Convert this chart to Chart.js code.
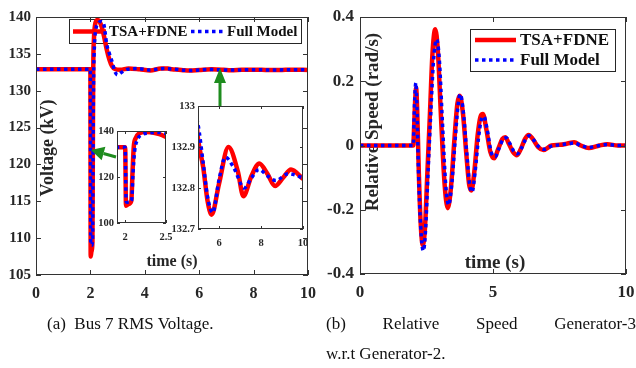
<!DOCTYPE html>
<html lang="en">
<head>
<meta charset="UTF-8">
<title>Bus 7 voltage and relative generator speed</title>
<script src="https://cdn.jsdelivr.net/npm/chart.js"></script>
<style>
    body {
        margin: 0;
        background: #fff;
        width: 636px;
        height: 368px;
        position: relative;
        overflow: hidden;
        font-family: "Liberation Serif", "Times New Roman", serif;
    }
    /* every plot sits at a fixed spot on the page */
    .plot { position: absolute; }
    .caption {
        position: absolute;
        font-size: 17px;
        line-height: 30px;
        color: #111;
        white-space: nowrap;
    }
</style>
</head>
<body>
<div class="plot" style="left:0;top:0;width:318px;height:310px"><canvas id="voltMain"></canvas></div>
<div class="plot" style="left:90px;top:120px;width:90px;height:130px"><canvas id="voltFault"></canvas></div>
<div class="plot" style="left:160px;top:95px;width:150px;height:160px"><canvas id="voltTail"></canvas></div>
<div class="plot" style="left:318px;top:0;width:318px;height:310px"><canvas id="speedMain"></canvas></div>

<div class="caption" style="left:47px;top:309px">(a)&nbsp; Bus 7 RMS Voltage.</div>
<div class="caption" style="left:326px;top:309px;width:310px;text-align:justify;text-align-last:justify;white-space:normal">(b) Relative Speed Generator-3</div>
<div class="caption" style="left:326px;top:339px">w.r.t Generator-2.</div>

<script>
// series names
const seriesNames = ['TSA+FDNE', 'Full Model'];

// Bus 7 RMS voltage (kV) against time (s)
const tsaVoltT = [0, 2.0, 2.01, 2.04, 2.075, 2.09, 2.105, 2.13, 2.17, 2.25,
    2.32, 2.42, 2.5, 2.6, 2.7, 2.8, 2.9, 3.1, 3.4, 3.8,
    4.2, 4.6, 4.85, 5.0, 5.25, 5.45, 5.65, 6.0, 6.45, 6.9,
    7.16, 7.55, 7.92, 8.3, 8.67, 9.05, 9.43, 10];
const tsaVoltV = [132.9, 132.9, 107.5, 108.2, 109.5, 122, 133, 137, 138.9, 139.6,
    139.5, 138.6, 137.4, 135.6, 134.2, 133.3, 132.95, 132.85, 133.0, 132.9,
    132.75, 133.0, 133.0, 132.92, 132.85, 132.77, 132.735, 132.81, 132.9, 132.84,
    132.78, 132.83, 132.86, 132.835, 132.805, 132.825, 132.845, 132.822];
const fullVoltT = [0, 2.0, 2.012, 2.05, 2.08, 2.095, 2.115, 2.15, 2.2, 2.3,
    2.38, 2.45, 2.5, 2.6, 2.7, 2.8, 2.9, 3.0, 3.15, 3.35,
    3.7, 4.2, 4.7, 5.0, 5.25, 5.45, 5.7, 6.0, 6.3, 6.7,
    7.2, 7.55, 7.9, 8.3, 8.7, 9.3, 10];
const fullVoltV = [132.9, 132.9, 109.2, 109.0, 110.0, 121, 131, 136.2, 138.3, 139.2,
    139.4, 139.3, 138.9, 136.3, 135.0, 133.9, 132.6, 132.15, 132.5, 132.9,
    133.0, 132.8, 133.0, 132.955, 132.86, 132.78, 132.74, 132.82, 132.875, 132.85,
    132.8, 132.825, 132.845, 132.83, 132.818, 132.835, 132.825];

// relative speed of generator 3 w.r.t. generator 2 (rad/s)
const tsaSpeedT = [0, 2.0, 2.04, 2.08, 2.11, 2.15, 2.21, 2.28, 2.36, 2.44,
    2.53, 2.63, 2.72, 2.83, 2.93, 3.05, 3.18, 3.3, 3.42, 3.55,
    3.66, 3.75, 3.87, 4.0, 4.1, 4.19, 4.3, 4.42, 4.53, 4.62,
    4.75, 4.9, 5.04, 5.2, 5.35, 5.46, 5.6, 5.75, 5.9, 6.05,
    6.2, 6.34, 6.5, 6.7, 6.9, 7.2, 7.5, 7.8, 8.05, 8.3,
    8.6, 9.0, 9.3, 9.7, 10];
const tsaSpeedV = [0, 0, 0.07, 0.15, 0.18, 0.11, -0.08, -0.24, -0.31, -0.26,
    -0.09, 0.1, 0.28, 0.362, 0.29, 0.08, -0.12, -0.195, -0.13, 0.02,
    0.13, 0.155, 0.1, -0.03, -0.12, -0.14, -0.08, 0.03, 0.09, 0.098,
    0.05, -0.02, -0.04, -0.01, 0.02, 0.026, 0.005, -0.02, -0.03, -0.01,
    0.02, 0.033, 0.02, -0.005, -0.014, 0, 0.002, 0.006, 0.01, 0,
    -0.008, 0, 0.004, 0, 0];
const fullSpeedT = [0, 2.0, 2.03, 2.06, 2.1, 2.14, 2.2, 2.28, 2.38, 2.46,
    2.56, 2.66, 2.76, 2.88, 2.98, 3.1, 3.22, 3.33, 3.45, 3.58,
    3.68, 3.77, 3.89, 4.02, 4.12, 4.21, 4.33, 4.45, 4.56, 4.66,
    4.78, 4.93, 5.08, 5.22, 5.37, 5.5, 5.64, 5.78, 5.92, 6.07,
    6.22, 6.36, 6.52, 6.72, 6.92, 7.2, 7.5, 7.8, 8.05, 8.3,
    8.6, 9.0, 9.3, 9.7, 10];
const fullSpeedV = [0, 0, 0.07, 0.15, 0.195, 0.12, -0.08, -0.25, -0.328, -0.27,
    -0.08, 0.1, 0.26, 0.33, 0.27, 0.07, -0.12, -0.185, -0.12, 0.02,
    0.12, 0.16, 0.1, -0.03, -0.12, -0.145, -0.08, 0.02, 0.08, 0.09,
    0.05, -0.02, -0.035, -0.01, 0.018, 0.024, 0.005, -0.018, -0.026, -0.008,
    0.018, 0.03, 0.018, -0.004, -0.012, -0.002, 0.002, 0.005, 0.008, 0,
    -0.006, 0, 0.003, 0, 0];

// tick positions
const voltTimeTicks = [0, 2, 4, 6, 8, 10];
const voltTicks = [105, 110, 115, 120, 125, 130, 135, 140];
const faultTimeTicks = [2, 2.5];
const faultVoltTicks = [100, 120, 140];
const tailTimeTicks = [6, 8, 10];
const tailVoltTicks = [132.7, 132.8, 132.9, 133];
const speedTimeTicks = [0, 5, 10];
const speedTicks = [-0.4, -0.2, 0, 0.2, 0.4];

const RED = '#ff0000';
const BLUE = '#0000ff';
const INK = '#262626';
const GREEN = '#1e8c1e';
const SERIF = '"Liberation Serif", "Times New Roman", serif';

function pts(t, v) {
    return t.map((x, i) => ({ x: x, y: v[i] }));
}

// red solid drawn first, blue dotted on top of it
function series(tT, tV, fT, fV) {
    return [
        { label: seriesNames[0], data: pts(tT, tV), borderColor: RED, borderWidth: 4.5, order: 2 },
        { label: seriesNames[1], data: pts(fT, fV), borderColor: BLUE, borderWidth: 3.5, borderDash: [3.5, 3.5], order: 1 }
    ];
}

// linear axis with fixed tick list and a fixed footprint so the plot box lands where we want it
function axis(min, max, tickList, size, pad, fit) {
    return {
        type: 'linear', min: min, max: max,
        grid: { display: false, drawTicks: false },
        border: { display: false },
        afterBuildTicks: s => { s.ticks = tickList.map(v => ({ value: v })); },
        ticks: {
            font: { family: SERIF, size: size, weight: 'bold' },
            color: INK, padding: pad, maxRotation: 0, autoSkip: false,
            callback: v => String(v)
        },
        afterFit: s => {
            fit(s);
            s.paddingLeft = s.paddingRight = s.paddingTop = s.paddingBottom = 0;
        }
    };
}

// box, inward ticks, titles inside the axes, legend and arrows
const framePlugin = {
    id: 'frame',
    beforeDraw(chart, args, o) {
        if (!o.whiteBg) return;
        const a = chart.chartArea, c = chart.ctx;
        c.save();
        c.fillStyle = '#fff';
        c.fillRect(a.left, a.top, a.width, a.height);
        c.restore();
    },
    beforeDatasetsDraw(chart, args, o) {
        const c = chart.ctx;
        (o.titles || []).forEach(t => {
            c.save();
            c.translate(t.x, t.y);
            c.rotate(t.rot || 0);
            c.font = 'bold ' + t.size + 'px ' + SERIF;
            c.fillStyle = INK;
            c.textAlign = 'center';
            c.textBaseline = 'middle';
            c.fillText(t.text, 0, 0);
            c.restore();
        });
        const lg = o.legend;
        if (lg) {
            c.save();
            c.fillStyle = '#fff';
            c.fillRect(lg.box[0], lg.box[1], lg.box[2], lg.box[3]);
            c.strokeStyle = INK;
            c.lineWidth = 1;
            c.strokeRect(lg.box[0] + 0.5, lg.box[1] + 0.5, lg.box[2], lg.box[3]);
            c.font = 'bold ' + lg.size + 'px ' + SERIF;
            c.textBaseline = 'middle';
            c.textAlign = 'left';
            lg.items.forEach(it => {
                const ds = chart.data.datasets[it.ds];
                c.beginPath();
                c.strokeStyle = ds.borderColor;
                c.lineWidth = ds.borderWidth;
                c.setLineDash(ds.borderDash || []);
                c.moveTo(it.x0, it.y);
                c.lineTo(it.x1, it.y);
                c.stroke();
                c.setLineDash([]);
                c.fillStyle = '#111';
                c.fillText(ds.label, it.tx, it.y + 1);
            });
            c.restore();
        }
    },
    afterDatasetsDraw(chart, args, o) {
        const a = chart.chartArea, c = chart.ctx;
        const xs = chart.scales.x, ys = chart.scales.y, L = o.tickLen || 5;
        c.save();
        c.strokeStyle = '#333';
        c.lineWidth = 1;
        c.strokeRect(a.left + 0.5, a.top + 0.5, a.width - 1, a.height - 1);
        c.beginPath();
        xs.ticks.forEach(t => {
            const p = Math.round(xs.getPixelForValue(t.value)) + 0.5;
            c.moveTo(p, a.bottom); c.lineTo(p, a.bottom - L);
            c.moveTo(p, a.top); c.lineTo(p, a.top + L);
        });
        ys.ticks.forEach(t => {
            const p = Math.round(ys.getPixelForValue(t.value)) + 0.5;
            c.moveTo(a.left, p); c.lineTo(a.left + L, p);
            c.moveTo(a.right, p); c.lineTo(a.right - L, p);
        });
        c.stroke();
        c.restore();
    },
    afterDraw(chart, args, o) {
        const c = chart.ctx;
        (o.arrows || []).forEach(ar => {
            const dx = ar.x1 - ar.x0, dy = ar.y1 - ar.y0;
            const len = Math.hypot(dx, dy), ux = dx / len, uy = dy / len;
            const bx = ar.x1 - ux * ar.head, by = ar.y1 - uy * ar.head;
            c.save();
            c.strokeStyle = GREEN;
            c.fillStyle = GREEN;
            c.lineWidth = 3;
            c.beginPath();
            c.moveTo(ar.x0, ar.y0);
            c.lineTo(bx, by);
            c.stroke();
            c.beginPath();
            c.moveTo(ar.x1, ar.y1);
            c.lineTo(bx - uy * ar.half, by + ux * ar.half);
            c.lineTo(bx + uy * ar.half, by - ux * ar.half);
            c.closePath();
            c.fill();
            c.restore();
        });
    }
};

function makeChart(id, datasets, scales, padding, frame) {
    return new Chart(document.getElementById(id), {
        type: 'line',
        data: { datasets: datasets },
        options: {
            responsive: true,
            maintainAspectRatio: false,
            animation: false,
            layout: { padding: padding },
            elements: {
                point: { radius: 0 },
                line: { cubicInterpolationMode: 'monotone', fill: false }
            },
            scales: scales,
            plugins: {
                legend: { display: false },
                tooltip: { enabled: false },
                frame: frame
            }
        },
        plugins: [framePlugin]
    });
}

// (a) bus voltage, full run
makeChart('voltMain',
    series(tsaVoltT, tsaVoltV, fullVoltT, fullVoltV),
    {
        x: axis(0, 10, voltTimeTicks, 16, 9, s => { s.height = 35; }),
        y: axis(105, 140, voltTicks, 15, 5, s => { s.width = 36; })
    },
    { left: 0, top: 17, right: 10, bottom: 0 },
    {
        tickLen: 5,
        titles: [
            { text: 'time (s)', x: 172, y: 262, size: 16 },
            { text: 'Voltage (kV)', x: 48, y: 148, size: 18, rot: -Math.PI / 2 }
        ],
        legend: {
            box: [69, 19, 232, 24], size: 15,
            items: [
                { ds: 0, x0: 73, x1: 106, tx: 109, y: 31.5 },
                { ds: 1, x0: 191, x1: 223, tx: 227, y: 31.5 }
            ]
        },
        arrows: [
            { x0: 116, y0: 157, x1: 91, y1: 150, head: 13, half: 7 },
            { x0: 220, y0: 106, x1: 220, y1: 68, head: 15, half: 6 }
        ]
    });

// (a) zoom on the fault
makeChart('voltFault',
    series(tsaVoltT, tsaVoltV, fullVoltT, fullVoltV),
    {
        x: axis(1.9, 2.5, faultTimeTicks, 10.5, 8, s => { s.height = 27; }),
        y: axis(100, 140, faultVoltTicks, 10.5, 3, s => { s.width = 27; })
    },
    { left: 0, top: 11, right: 14, bottom: 0 },
    { tickLen: 3, whiteBg: true });

// (a) zoom on the post-fault swing
makeChart('voltTail',
    series(tsaVoltT, tsaVoltV, fullVoltT, fullVoltV),
    {
        x: axis(5, 10, tailTimeTicks, 10.5, 8, s => { s.height = 26; }),
        y: axis(132.7, 133, tailVoltTicks, 10.5, 3, s => { s.width = 38; })
    },
    { left: 0, top: 11, right: 7, bottom: 0 },
    { tickLen: 3, whiteBg: true });

// (b) relative rotor speed
makeChart('speedMain',
    series(tsaSpeedT, tsaSpeedV, fullSpeedT, fullSpeedV),
    {
        x: axis(0, 10, speedTimeTicks, 17, 8, s => { s.height = 36; }),
        y: axis(-0.4, 0.4, speedTicks, 17, 6, s => { s.width = 42; })
    },
    { left: 0, top: 17, right: 10, bottom: 0 },
    {
        tickLen: 5,
        titles: [
            { text: 'time (s)', x: 177, y: 263, size: 19 },
            { text: 'Relative Speed (rad/s)', x: 55, y: 122, size: 19, rot: -Math.PI / 2 }
        ],
        legend: {
            box: [152, 29, 145, 42], size: 17,
            items: [
                { ds: 0, x0: 157, x1: 198, tx: 202, y: 40 },
                { ds: 1, x0: 157, x1: 198, tx: 202, y: 60 }
            ]
        }
    });
</script>
</body>
</html>
